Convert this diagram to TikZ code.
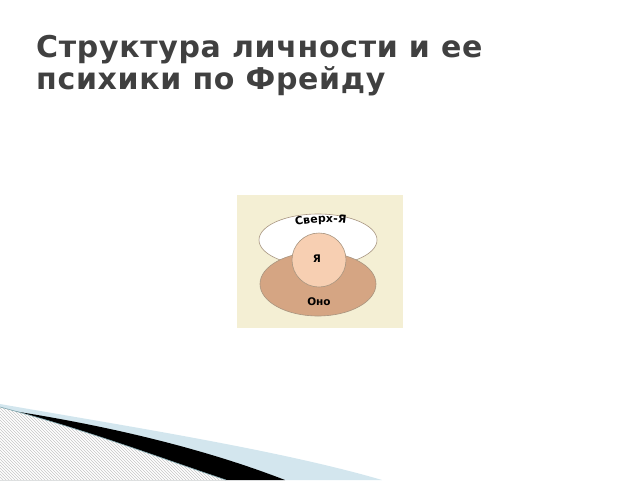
\documentclass[tikz,border=0pt]{standalone}
\usepackage{fontspec}
\usepackage{xcolor}
\usepackage{tikz}
\newfontfamily\titlefont{DejaVu Sans}
\newfontfamily\headfont[LetterSpace=2.2]{DejaVu Sans}
\usetikzlibrary{patterns,decorations.text}

\definecolor{titlegray}{HTML}{404040}
\definecolor{panel}{HTML}{F4EFD4}
\definecolor{ono}{HTML}{D5A583}
\definecolor{ego}{HTML}{F7CFB2}
\definecolor{ringedge}{HTML}{A89580}
\definecolor{swooshblue}{HTML}{D3E6EE}
\definecolor{hatchgray}{HTML}{C6C6C6}
\definecolor{hatchedge}{HTML}{7FA6AE}

\tikzset{
  heading/.style={anchor=base west, inner sep=0pt, text=titlegray,
    font=\headfont\bfseries\fontsize{30}{33}\selectfont},
  lbl/.style={inner sep=0pt, font=\titlefont\bfseries\fontsize{10.5}{12}\selectfont},
  ring/.style={draw=ringedge, line width=0.6pt}
}

\begin{document}
\begin{tikzpicture}[x=1pt,y=-1pt]
    \useasboundingbox (0,0) rectangle (640,480);
    \node[heading] (title1) at (36,57) {Структура личности и ее};
    \node[heading] (title2) at (36,89) {психики по Фрейду};

    % Freud diagram
    \fill[panel] (237,195) rectangle (403,328);
    \draw[ring, fill=white] (318,240) ellipse [x radius=59, y radius=26];
    \draw[ring, fill=ono] (318,284) ellipse [x radius=58, y radius=32];
    \draw[ring, fill=ego] (319,260) circle [radius=27];
    \path[decorate, decoration={text along path, text align=center,
        text={|\titlefont\bfseries\fontsize{11}{13}\selectfont|Сверх-Я}}]
        (286,229) .. controls (304,222) and (336,220) .. (356,226);
    \node[lbl] (egolbl) at (317,259) {Я};
    \node[lbl] (onolbl) at (319,302) {Оно};

    % bottom swoosh
    \fill[swooshblue] (0,404) .. controls (120,425) and (280,450) .. (382,480) -- (0,480) -- cycle;
    \fill[black] (0,409) .. controls (100,424) and (200,447) .. (285,480) -- (0,480) -- cycle;
    \fill[white] (0,407) .. controls (90,431) and (160,458) .. (226,480) -- (0,480) -- cycle;
    \fill[pattern=north west lines, pattern color=hatchgray] (0,407) .. controls (90,431) and (160,458) .. (226,480) -- (0,480) -- cycle;
    \draw[hatchedge, line width=0.6pt] (0,407) .. controls (90,431) and (160,458) .. (226,480);
\end{tikzpicture}
\end{document}
